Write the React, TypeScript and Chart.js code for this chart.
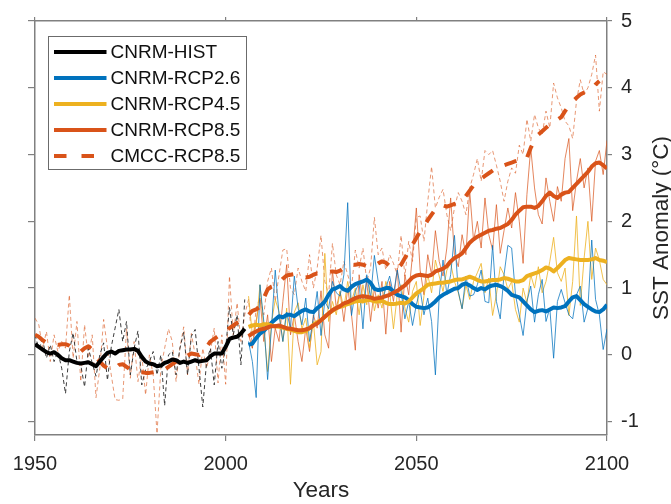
import React, { useEffect, useRef } from 'react';
import { Chart, registerables } from 'chart.js';

Chart.register(...registerables);

// ---------------- DATA ----------------
const seriesNames = ['CNRM-HIST', 'CNRM-RCP2.6', 'CNRM-RCP4.5', 'CNRM-RCP8.5', 'CMCC-RCP8.5'];
const xTitle = 'Years';
const yTitle = 'SST Anomaly (°C)';
const xTickValues = [1950, 2000, 2050, 2100];
const yTickValues = [-1, 0, 1, 2, 3, 4, 5];

const HIST_START = 1950;
const CMCC_START = 1950;
const RCP_START = 2006;

// CNRM historical, annual (1950-2005)
const histAnnual = [
  0.30, 0.10, 0.22, -0.05, 0.15, -0.10, 0.05, -0.20, -0.58, 0.05,
  0.33, -0.10, -0.15, -0.48, 0.10, -0.12, -0.32, 0.00, 0.18, -0.38,
  0.12, 0.40, 0.68, 0.20, 0.50, -0.30, 0.10, 0.36, -0.45, -0.22,
  -0.10, 0.05, -0.30, 0.00, -0.76, 0.00, 0.05, -0.30, 0.10, 0.34,
  -0.30, 0.28, 0.38, -0.20, -0.78, -0.10, 0.10, -0.45, 0.20, -0.20,
  0.10, 0.71, 0.30, 0.60, -0.15, 0.83,
];
// CNRM historical, smoothed (1950-2005)
const histSmooth = [
  0.16, 0.12, 0.08, 0.04, 0.02, 0.04, 0.00, -0.05, -0.08, -0.08,
  -0.10, -0.12, -0.13, -0.12, -0.11, -0.14, -0.17, -0.10, -0.03, 0.03,
  0.05, 0.02, 0.06, 0.07, 0.08, 0.08, 0.09, 0.06, -0.03, -0.10,
  -0.13, -0.14, -0.17, -0.16, -0.12, -0.10, -0.07, -0.08, -0.12, -0.10,
  -0.12, -0.10, -0.08, -0.10, -0.09, -0.08, -0.02, 0.02, 0.02, 0.02,
  0.12, 0.24, 0.26, 0.27, 0.32, 0.39,
];
// CMCC RCP8.5, annual (1950-2100)
const cmccAnnual = [
  0.55, 0.45, 0.10, 0.35, -0.10, 0.30, 0.05, 0.20, 0.10, 0.90,
  -0.05, 0.50, -0.40, 0.45, -0.05, 0.30, -0.64, -0.20, 0.53, 0.10,
  -0.30, -0.67, -0.68, -0.66, 0.39, -0.35, 0.20, -0.40, 0.00, -0.60,
  0.00, -0.30, -1.18, -0.20, 0.10, 0.39, 0.20, -0.40, 0.10, 0.42,
  -0.30, 0.32, 0.00, -0.44, 0.10, -0.20, 0.05, 0.40, -0.42, 0.30,
  -0.44, 1.18, 0.30, 0.78, 0.20, 0.60, 0.83, 0.10, 0.70, 0.85,
  0.60, 1.10, 1.30, 0.80, 1.20, 1.57, 1.59, 1.00, 0.90, 1.30,
  1.10, 0.95, 1.50, 1.00, 1.30, 1.79, 1.10, 0.90, 1.67, 1.20,
  1.05, 1.40, 1.20, 1.00, 1.57, 1.30, 1.60, 1.10, 1.30, 2.06,
  1.50, 1.60, 1.27, 1.50, 1.37, 1.20, 1.79, 1.18, 1.70, 1.40,
  2.06, 2.08, 1.70, 2.30, 2.82, 2.20, 2.36, 2.48, 2.10, 1.86,
  2.20, 2.43, 2.30, 2.10, 2.50, 2.70, 2.94, 2.60, 3.06, 3.00,
  3.06, 2.84, 2.60, 2.30, 2.60, 2.80, 2.72, 3.14, 3.00, 3.53,
  3.20, 3.60, 3.40, 3.30, 3.65, 3.40, 4.07, 3.85, 3.70, 3.50,
  3.43, 3.24, 3.80, 4.12, 3.90, 4.00, 4.20, 4.49, 3.65, 4.24,
  4.20,
];
// CMCC RCP8.5, smoothed (1950-2098)
const cmccSmooth = [
  0.30, 0.27, 0.22, 0.18, 0.16, 0.16, 0.15, 0.16, 0.16, 0.14,
  0.10, 0.06, 0.05, 0.10, 0.13, 0.08, -0.04, -0.10, -0.16, -0.20,
  -0.22, -0.20, -0.15, -0.14, -0.18, -0.22, -0.25, -0.26, -0.26, -0.27,
  -0.27, -0.26, -0.25, -0.23, -0.22, -0.18, -0.14, -0.10, -0.07, -0.05,
  -0.01, 0.02, 0.01, 0.00, 0.05, 0.12, 0.20, 0.24, 0.28, 0.32,
  0.36, 0.40, 0.44, 0.48, 0.51, 0.55, 0.60, 0.66, 0.68, 0.72,
  0.85, 0.98, 1.02, 1.04, 1.08, 1.14, 1.19, 1.20, 1.21, 1.20,
  1.18, 1.16, 1.17, 1.20, 1.22, 1.21, 1.22, 1.24, 1.25, 1.24,
  1.26, 1.30, 1.33, 1.35, 1.35, 1.36, 1.35, 1.33, 1.32, 1.33,
  1.37, 1.40, 1.38, 1.33, 1.30, 1.30, 1.35, 1.45, 1.55, 1.65,
  1.75, 1.85, 1.92, 2.02, 2.10, 2.18, 2.23, 2.24, 2.22, 2.24,
  2.26, 2.28, 2.30, 2.38, 2.46, 2.54, 2.60, 2.64, 2.68, 2.72,
  2.76, 2.80, 2.82, 2.84, 2.86, 2.88, 2.90, 2.92, 2.90, 2.95,
  3.10, 3.22, 3.30, 3.35, 3.40, 3.45, 3.48, 3.52, 3.56, 3.65,
  3.73, 3.80, 3.85, 3.90, 3.93, 3.95, 3.98, 4.05, 4.10,
];
// CNRM RCP2.6 (2006-2100)
const rcp26Annual = [
  0.20, -0.10, -0.64, 1.05, 0.50, -0.37, 0.40, 1.27, 0.60, 0.20,
  0.64, 0.40, 1.18, 0.70, 0.45, 0.85, 0.20, 0.55, 0.95, 0.29,
  0.80, 0.69, 1.10, 0.93, 0.88, 1.20, 2.28, 0.59, 0.95, 1.08,
  0.39, 1.20, 0.85, 1.49, 1.10, 0.78, 1.00, 1.18, 0.90, 1.27,
  0.95, 0.54, 0.80, 0.44, 0.75, 0.98, 0.60, 0.85, 0.50, -0.30,
  0.88, 1.42, 0.90, 1.20, 1.79, 0.95, 0.69, 1.18, 0.88, 0.90,
  1.05, 1.27, 0.80, 0.78, 1.64, 0.80, 0.54, 1.20, 1.64, 1.60,
  0.90, 0.60, 0.29, 0.80, 1.03, 0.49, 0.90, 1.13, 0.50, 0.70,
  -0.05, 0.80, 0.98, 0.78, 0.60, 0.54, 0.90, 1.03, 0.49, 0.70,
  1.72, 0.83, 0.60, 0.08, 0.39,
];
const rcp26Smooth = [
  0.15, 0.17, 0.25, 0.32, 0.36, 0.42, 0.48, 0.53, 0.58, 0.56,
  0.60, 0.60, 0.58, 0.62, 0.66, 0.68, 0.65, 0.64, 0.70, 0.74,
  0.80, 0.90, 0.98, 1.00, 1.03, 0.98, 0.96, 1.02, 1.06, 1.08,
  1.10, 1.13, 1.08, 0.99, 0.97, 0.98, 1.00, 1.00, 0.95, 0.90,
  0.88, 0.86, 0.82, 0.76, 0.72, 0.71, 0.70, 0.71, 0.75, 0.80,
  0.86, 0.90, 0.93, 0.96, 0.99, 1.00, 1.05, 1.07, 1.04, 1.00,
  0.97, 1.00, 0.98, 1.02, 1.04, 1.05, 1.03, 1.00, 0.96, 0.90,
  0.88, 0.86, 0.80, 0.74, 0.68, 0.64, 0.66, 0.67, 0.65, 0.68,
  0.71, 0.70, 0.71, 0.73, 0.80, 0.86, 0.88, 0.82, 0.76, 0.72,
  0.68, 0.65, 0.64, 0.68, 0.75,
];
// CNRM RCP4.5 (2006-2100)
const rcp45Annual = [
  0.88, 0.30, 0.45, 1.05, 0.40, -0.25, 0.47, 0.83, 0.64, 0.20,
  0.70, -0.44, 0.64, 0.78, 0.39, 0.55, 0.10, 0.50, -0.15, 0.05,
  1.52, 0.50, 0.80, 0.60, 0.95, 0.70, 1.10, 0.80, 1.00, 0.60,
  1.05, 0.75, 1.10, 0.66, 0.90, 0.70, 1.10, 0.95, 0.39, 0.90,
  1.05, 0.70, 0.49, 0.95, 1.10, 0.44, 0.88, 1.20, 0.93, 1.42,
  1.18, 0.95, 1.27, 1.37, 1.10, 0.93, 0.69, 1.05, 0.83, 1.10,
  1.23, 1.37, 0.93, 1.15, 0.59, 0.90, 1.32, 1.20, 0.98, 1.10,
  0.68, 0.49, 1.00, 0.78, 1.20, 1.00, 1.32, 0.93, 1.10, 1.40,
  1.76, 1.23, 1.10, 1.30, 0.59, 1.10, 2.08, 0.74, 1.45, 2.00,
  1.13, 1.60, 1.42, 1.13, 1.05,
];
const rcp45Smooth = [
  0.42, 0.44, 0.45, 0.44, 0.46, 0.46, 0.44, 0.43, 0.42, 0.41,
  0.39, 0.38, 0.36, 0.34, 0.34, 0.36, 0.40, 0.45, 0.49, 0.52,
  0.57, 0.62, 0.66, 0.70, 0.72, 0.74, 0.76, 0.78, 0.80, 0.81,
  0.80, 0.82, 0.82, 0.80, 0.80, 0.81, 0.78, 0.76, 0.76, 0.77,
  0.78, 0.77, 0.80, 0.86, 0.92, 0.96, 1.00, 1.05, 1.06, 1.07,
  1.08, 1.08, 1.09, 1.10, 1.12, 1.13, 1.13, 1.15, 1.17, 1.15,
  1.12, 1.10, 1.10, 1.11, 1.12, 1.12, 1.13, 1.15, 1.14, 1.12,
  1.10, 1.10, 1.12, 1.18, 1.20, 1.22, 1.24, 1.27, 1.31, 1.29,
  1.25, 1.30, 1.36, 1.42, 1.45, 1.44, 1.43, 1.42, 1.42, 1.42,
  1.43, 1.45, 1.42, 1.41, 1.39,
];
// CNRM RCP8.5 (2006-2100)
const rcp85Annual = [
  0.30, 0.10, 0.50, 0.85, 0.20, 0.60, -0.10, 0.40, 0.20, 0.80,
  1.35, 0.30, 0.60, 0.20, -0.10, 0.40, 0.05, 0.60, 0.40, 0.96,
  0.30, 0.10, 1.27, 0.70, 0.95, 0.50, 1.00, 0.60, 0.07, 1.20,
  0.80, 1.10, 0.50, 1.00, 0.70, 1.10, 0.31, 1.10, 0.80, 1.30,
  0.34, 1.20, 0.90, 1.50, 2.20, 1.27, 0.90, 1.50, 1.20, 1.86,
  1.40, 1.18, 1.60, 2.35, 1.50, 1.32, 1.80, 1.50, 2.45, 1.71,
  2.00, 1.60, 2.35, 1.80, 1.57, 2.25, 1.52, 1.86, 2.20, 1.90,
  2.43, 2.00, 1.37, 2.40, 3.10, 2.50, 2.10, 1.96, 2.65, 2.30,
  2.00, 2.52, 2.30, 2.94, 3.24, 2.16, 2.60, 2.94, 2.50, 2.80,
  2.00, 2.90, 3.06, 2.70, 3.21,
];
const rcp85Smooth = [
  0.28, 0.32, 0.35, 0.38, 0.39, 0.41, 0.43, 0.43, 0.44, 0.42,
  0.40, 0.39, 0.38, 0.37, 0.37, 0.38, 0.40, 0.44, 0.47, 0.52,
  0.57, 0.62, 0.67, 0.70, 0.73, 0.77, 0.79, 0.82, 0.85, 0.87,
  0.88, 0.87, 0.86, 0.84, 0.85, 0.86, 0.88, 0.90, 0.93, 0.96,
  1.00, 1.04, 1.10, 1.16, 1.19, 1.20, 1.19, 1.18, 1.20, 1.25,
  1.27, 1.29, 1.33, 1.40, 1.45, 1.48, 1.52, 1.60, 1.68, 1.73,
  1.77, 1.80, 1.83, 1.86, 1.87, 1.89, 1.90, 1.93, 1.96, 2.02,
  2.10, 2.16, 2.21, 2.22, 2.22, 2.20, 2.23, 2.30, 2.38, 2.43,
  2.38, 2.35, 2.40, 2.43, 2.44, 2.50, 2.56, 2.62, 2.68, 2.74,
  2.82, 2.87, 2.88, 2.84, 2.79,
];

// ---------------- STYLE ----------------
const FONT = '"Liberation Sans", Arial, Helvetica, sans-serif';
const TXT = '#262626';
const AX = '#808080';
const BLACK = '#000000';
const BLUE = '#0072BD';
const YELLOW = '#EDB120';
const ORANGE = '#D95319';

const toPts = (start: number, vals: number[]) => vals.map((v, i) => ({ x: start + i, y: v }));

const legendEntries = [
  { label: seriesNames[0], color: BLACK, dash: false },
  { label: seriesNames[1], color: BLUE, dash: false },
  { label: seriesNames[2], color: YELLOW, dash: false },
  { label: seriesNames[3], color: ORANGE, dash: false },
  { label: seriesNames[4], color: ORANGE, dash: true },
];

const boxLegend = {
  id: 'boxLegend',
  afterDraw(chart: any) {
    const { ctx, chartArea } = chart;
    const x0 = chartArea.left + 13.5;
    const y0 = chartArea.top + 15.5;
    const w = 198;
    const h = 133;
    ctx.save();
    ctx.fillStyle = '#ffffff';
    ctx.fillRect(x0, y0, w, h);
    ctx.strokeStyle = '#6b6b6b';
    ctx.lineWidth = 1;
    ctx.strokeRect(x0, y0, w, h);
    legendEntries.forEach((e, i) => {
      const y = y0 + 15.5 + i * 26;
      ctx.strokeStyle = e.color;
      ctx.lineWidth = 4;
      ctx.lineCap = 'butt';
      ctx.setLineDash(e.dash ? [12.5, 15] : []);
      ctx.beginPath();
      ctx.moveTo(x0 + 5.5, y);
      ctx.lineTo(x0 + 58, y);
      ctx.stroke();
      ctx.setLineDash([]);
      ctx.fillStyle = '#111111';
      ctx.font = `19px ${FONT}`;
      ctx.textAlign = 'left';
      ctx.textBaseline = 'middle';
      ctx.fillText(e.label, x0 + 62, y + 1);
    });
    ctx.restore();
  },
};

const yAxisTitle = {
  id: 'yAxisTitle',
  afterDraw(chart: any) {
    const { ctx, chartArea } = chart;
    ctx.save();
    ctx.translate(662, (chartArea.top + chartArea.bottom) / 2);
    ctx.rotate(-Math.PI / 2);
    ctx.fillStyle = TXT;
    ctx.font = `22.5px ${FONT}`;
    ctx.textAlign = 'center';
    ctx.textBaseline = 'middle';
    ctx.fillText(yTitle, 0, 0);
    ctx.restore();
  },
};

const setTicks = (values: number[]) => (s: any) => {
  s.ticks = values.map((v) => ({ value: v }));
};

export default function App() {
  const ref = useRef<HTMLCanvasElement | null>(null);

  useEffect(() => {
    if (!ref.current) return;
    const thin = (color: string, dash: number[] | null, data: any, order: number) => ({
      data,
      borderColor: color,
      borderWidth: 1,
      borderDash: dash || [],
      pointRadius: 0,
      tension: 0,
      fill: false,
      order,
    });
    const thick = (label: string, color: string, dash: number[] | null, data: any, order: number) => ({
      label,
      data,
      borderColor: color,
      borderWidth: 4,
      borderDash: dash || [],
      borderCapStyle: 'butt',
      borderJoinStyle: 'round',
      pointRadius: 0,
      tension: 0,
      fill: false,
      order,
    });

    const chart = new Chart(ref.current, {
      type: 'line',
      data: {
        datasets: [
          thick(seriesNames[0], BLACK, null, toPts(HIST_START, histSmooth), 1),
          thick(seriesNames[3], ORANGE, null, toPts(RCP_START, rcp85Smooth), 2),
          thick(seriesNames[2], YELLOW, null, toPts(RCP_START, rcp45Smooth), 3),
          thick(seriesNames[1], BLUE, null, toPts(RCP_START, rcp26Smooth), 4),
          thick(seriesNames[4], ORANGE, [12.5, 13], toPts(CMCC_START, cmccSmooth), 5),
          thin('rgba(40,40,40,0.9)', [4, 3], toPts(HIST_START, histAnnual), 10),
          thin('rgba(0,114,189,0.75)', null, toPts(RCP_START, rcp26Annual), 11),
          thin('rgba(237,177,32,0.8)', null, toPts(RCP_START, rcp45Annual), 12),
          thin('rgba(217,83,25,0.7)', null, toPts(RCP_START, rcp85Annual), 13),
          thin('rgba(217,83,25,0.6)', [4, 3], toPts(CMCC_START, cmccAnnual), 14),
        ] as any,
      },
      options: {
        animation: false,
        responsive: false,
        devicePixelRatio: 1,
        layout: { padding: 0 },
        plugins: { legend: { display: false }, tooltip: { enabled: false }, title: { display: false } },
        scales: {
          x: {
            type: 'linear',
            position: 'bottom',
            min: 1950,
            max: 2100,
            afterBuildTicks: setTicks(xTickValues),
            ticks: {
              maxRotation: 0,
              autoSkip: false,
              padding: 11,
              color: TXT,
              font: { size: 20, family: FONT },
              callback: (v: any) => String(v),
            },
            grid: { drawOnChartArea: false, drawTicks: true, tickLength: 6, color: AX, lineWidth: 1.2 },
            border: { display: true, color: AX, width: 1.5 },
            title: {
              display: true,
              text: xTitle,
              color: TXT,
              font: { size: 22.5, family: FONT },
              padding: { top: 0, bottom: 0 },
            },
            afterFit: (s: any) => { s.height = 69; },
          },
          x2: {
            type: 'linear',
            axis: 'x',
            position: 'top',
            min: 1950,
            max: 2100,
            afterBuildTicks: setTicks(xTickValues),
            ticks: { display: false },
            grid: { drawOnChartArea: false, drawTicks: true, tickLength: 4, color: AX, lineWidth: 1.2 },
            border: { display: true, color: AX, width: 1.5 },
            afterFit: (s: any) => { s.height = 14; },
          },
          y: {
            type: 'linear',
            position: 'right',
            min: -1.2,
            max: 5,
            afterBuildTicks: setTicks(yTickValues),
            ticks: {
              padding: 9,
              autoSkip: false,
              color: TXT,
              font: { size: 20, family: FONT },
              callback: (v: any) => String(v),
            },
            grid: { drawOnChartArea: false, drawTicks: true, tickLength: 5, color: AX, lineWidth: 1.2 },
            border: { display: true, color: AX, width: 1.5 },
            afterFit: (s: any) => { s.width = 64; },
          },
          y2: {
            type: 'linear',
            axis: 'y',
            position: 'left',
            min: -1.2,
            max: 5,
            afterBuildTicks: setTicks(yTickValues),
            ticks: { display: false },
            grid: { drawOnChartArea: false, drawTicks: true, tickLength: 7, color: AX, lineWidth: 1.2 },
            border: { display: true, color: AX, width: 1.5 },
            afterFit: (s: any) => { s.width = 35; },
          },
        },
      } as any,
      plugins: [boxLegend, yAxisTitle],
    });
    return () => chart.destroy();
  }, []);

  return (
    <div style={{ position: 'fixed', left: 0, top: 0, width: 671, height: 504, background: '#fff' }}>
      <canvas ref={ref} width={671} height={504} style={{ display: 'block', width: 671, height: 504 }} />
    </div>
  );
}
